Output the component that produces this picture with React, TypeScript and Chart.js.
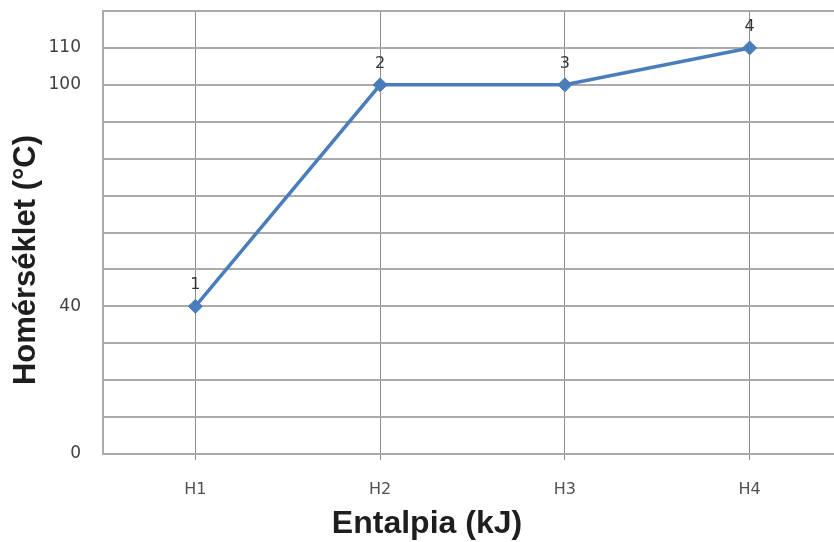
import React, { useEffect, useRef } from "react";
import { Chart, registerables } from "chart.js";

Chart.register(...registerables);

const categories = ["H1", "H2", "H3", "H4"];
const temperatures = [40, 100, 100, 110];
const pointLabels = ["1", "2", "3", "4"];
const yTickLabels = [0, 40, 100, 110];
const yMin = 0;
const yMax = 120;
const yStep = 10;
const xTitle = "Entalpia (kJ)";
const yTitle = "Homérséklet (°C)";

export default function App() {
  const ref = useRef<HTMLCanvasElement>(null);

  useEffect(() => {
    if (!ref.current) return;

    const labelPlugin = {
      id: "pointNumberLabels",
      afterDatasetsDraw(chart: any) {
        const ctx = chart.ctx;
        const meta = chart.getDatasetMeta(0);
        ctx.save();
        ctx.font = '16px "DejaVu Sans"';
        ctx.fillStyle = "#333333";
        ctx.textAlign = "center";
        ctx.textBaseline = "middle";
        meta.data.forEach((el: any, i: number) => {
          ctx.fillText(pointLabels[i], el.x, el.y - 21);
        });
        ctx.restore();
      },
    };

    const titlePlugin = {
      id: "axisTitles",
      afterDraw(chart: any) {
        const ctx = chart.ctx;
        const area = chart.chartArea;
        ctx.save();
        ctx.fillStyle = "#1e1e1e";
        ctx.textAlign = "center";
        ctx.textBaseline = "middle";
        ctx.font = 'bold 32px "Liberation Sans", Arial';
        ctx.fillText(xTitle, area.left + 324, 524);
        ctx.font = 'bold 31px "Liberation Sans", Arial';
        ctx.translate(26, area.top + 249);
        ctx.rotate(-Math.PI / 2);
        ctx.fillText(yTitle, 0, 0);
        ctx.restore();
      },
    };

    const chart = new Chart(ref.current, {
      type: "line",
      data: {
        labels: categories,
        datasets: [
          {
            data: temperatures,
            borderColor: "#4A7EBB",
            backgroundColor: "#4A7EBB",
            borderWidth: 3.5,
            pointStyle: "rectRot",
            pointRadius: 7,
            pointBackgroundColor: "#4A7EBB",
            pointBorderColor: "#4A7EBB",
            pointBorderWidth: 1,
            tension: 0,
            fill: false,
          },
        ],
      },
      options: {
        responsive: false,
        animation: false,
        devicePixelRatio: 1,
        layout: { autoPadding: false, padding: { top: 11, left: 0, right: 0, bottom: 0 } },
        plugins: {
          legend: { display: false },
          tooltip: { enabled: false },
          title: { display: false },
        },
        scales: {
          x: {
            type: "category",
            offset: true,
            grid: {
              offset: false,
              color: "#8c8c8c",
              lineWidth: 1,
              drawTicks: true,
              tickLength: 6,
            },
            border: { display: true, color: "#aaaaaa", width: 2 },
            ticks: {
              color: "#505050",
              padding: 20,
              font: { family: '"DejaVu Sans"', size: 16 },
            },
            title: { display: false },
            afterFit(scale: any) {
              scale.height = 88;
              scale.paddingLeft = 0;
              scale.paddingRight = 0;
            },
          },
          y: {
            min: yMin,
            max: yMax,
            grid: {
              color: "#aaaaaa",
              lineWidth: 2,
              drawTicks: false,
            },
            border: { display: true, color: "#aaaaaa", width: 2 },
            ticks: {
              stepSize: yStep,
              autoSkip: false,
              padding: 22,
              color: "#404040",
              font: { family: '"DejaVu Sans"', size: 17 },
              callback: (v: any) => (yTickLabels.includes(Number(v)) ? String(v) : ""),
            },
            title: { display: false },
            afterFit(scale: any) {
              scale.width = 103;
              scale.paddingTop = 0;
              scale.paddingBottom = 0;
            },
          },
        },
      },
      plugins: [labelPlugin, titlePlugin],
    } as any);

    return () => chart.destroy();
  }, []);

  return (
    <div
      style={{
        position: "fixed",
        left: 0,
        top: 0,
        width: 834,
        height: 542,
        overflow: "hidden",
        background: "#ffffff",
      }}
    >
      <div style={{ width: 842, height: 542 }}>
        <canvas
          ref={ref}
          width={842}
          height={542}
          style={{ display: "block", width: "842px", height: "542px" }}
        />
      </div>
    </div>
  );
}
